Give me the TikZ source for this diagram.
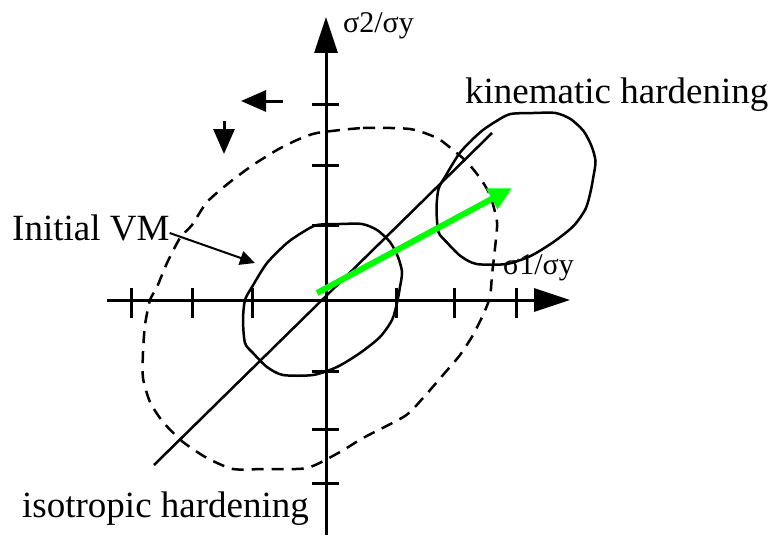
\documentclass[tikz,border=0pt]{standalone}
\usepackage{fontspec}
\setmainfont{Liberation Serif}
\usetikzlibrary{arrows.meta}
\definecolor{vgreen}{RGB}{0,255,0}
\begin{document}
\begin{tikzpicture}[x=1pt,y=-1pt,
  axisline/.style={line width=3pt,-{Triangle[length=36pt,width=23pt]}},
  tickmark/.style={line width=3pt},
  smallarrow/.style={line width=3pt,-{Triangle[length=25pt,width=21pt]}},
  curveline/.style={line width=2.5pt,line join=round},
  isocurve/.style={line width=2.5pt,dash pattern=on 12pt off 8pt,line join=round},
  bigtext/.style={font=\fontsize{37}{40}\selectfont,inner sep=0pt,anchor=base west},
  axtext/.style={font=\fontsize{30}{33}\selectfont,inner sep=0pt,anchor=base west},
  vm/.pic={\draw[curveline] plot[smooth cycle,tension=0.45] coordinates {
    (-9,-75) (14,-76) (36,-76) (51,-70) (64,-58) (72,-43) (76,-28) (74,-13)
    (71,3) (66,20) (54,37) (34,53) (11,67) (-13,75) (-43,75) (-59,67)
    (-73,53) (-81,43) (-83,20) (-81,0) (-74,-13) (-59,-37) (-39,-57) (-23,-68)};}
]
\useasboundingbox (0,0) rectangle (775,535);

% axes
\coordinate (o) at (326,300);
\coordinate (xstart) at (107,300);
\coordinate (xend) at (570,300);
\coordinate (ystart) at (326,535);
\coordinate (yend) at (326,17);
\draw[axisline] (xstart) -- (xend);
\draw[axisline] (ystart) -- (yend);
\foreach \x in {131,192,252,396,454,516} \draw[tickmark] (\x,288) -- (\x,318);
\foreach \y in {104,165,225,371,429,483} \draw[tickmark] (312,\y) -- (339,\y);

% isotropic hardening (dashed)
\draw[isocurve] plot[smooth cycle,tension=0.4] coordinates {
 (317,133) (363,128) (410,129) (437,138) (453,150) (467,162) (480,178)
 (490,195) (497,222) (495,248) (492,275) (490,297) (483,315) (473,335)
 (460,355) (443,375) (423,398) (405,416) (363,438) (340,452)
 (307,468) (263,469) (233,469) (207,458) (183,442) (163,422) (150,402)
 (143,378) (143,352) (145,325) (150,300) (157,287) (167,263) (180,238)
 (192,225) (207,202) (230,182) (253,165) (277,150) (297,140)};

% initial and kinematic yield surfaces
\pic at (o) {vm};
\coordinate (kc) at (519.5,189);
\pic at (kc) {vm};

% isotropic hardening line
\coordinate (dA) at (154,465);
\coordinate (dB) at (492,133);
\draw[line width=2.5pt] (dA) -- (dB);

% green arrow
\coordinate (gA) at (317,293);
\coordinate (gB) at (512,188);
\draw[line width=6pt,vgreen,-{Triangle[length=23pt,width=22pt]}] (gA) -- (gB);

% small arrows
\coordinate (la) at (283,101);
\coordinate (lb) at (241,101);
\draw[smallarrow] (la) -- (lb);
\coordinate (da) at (224,121);
\coordinate (db) at (224,154);
\draw[smallarrow] (da) -- (db);

% labels
\node[axtext] (s2) at (343,33) {σ2/σy};
\node[axtext] (s1) at (503,274) {σ1/σy};
\node[bigtext] (kin) at (465,103) {kinematic hardening};
\node[bigtext] (ini) at (12,240) {Initial VM};
\node[bigtext] (iso) at (22,517) {isotropic hardening};

% Initial VM arrow
\coordinate (ia) at (255,263);
\draw[line width=2pt,-{Triangle[length=15pt,width=14pt]}] (ini.base east) ++(0,-7) -- (ia);
\end{tikzpicture}
\end{document}
